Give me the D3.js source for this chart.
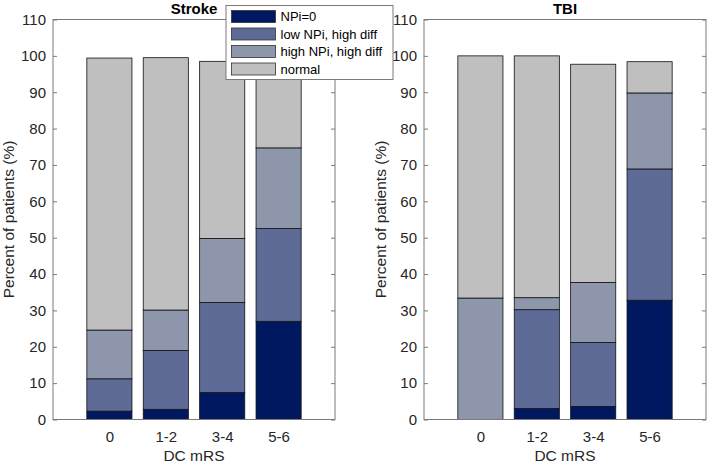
<!DOCTYPE html>
<html><head><meta charset="utf-8">
<script src="https://cdn.jsdelivr.net/npm/d3@7"></script>
<style>body{margin:0;background:#fff;} svg{display:block;font-family:"Liberation Sans",Arial,Helvetica,sans-serif;}</style>
</head><body>
<svg id="c" width="708" height="463"></svg>
<script>
const categories = ["0", "1-2", "3-4", "5-6"];
const seriesNames = ["NPi=0", "low NPi, high diff", "high NPi, high diff", "normal"];
const seriesColors = ["#00185f", "#5e6b96", "#8e96ab", "#bfbfbf"];
const strokeNPi0   = [2.3, 2.8, 7.4, 27.0];
const strokeLow    = [8.9, 16.2, 24.8, 25.5];
const strokeHigh   = [13.4, 11.1, 17.6, 22.2];
const strokeNormal = [74.8, 69.4, 48.7, 25.0];
const tbiNPi0   = [0, 3.0, 3.6, 32.8];
const tbiLow    = [0, 27.2, 17.6, 36.1];
const tbiHigh   = [33.4, 3.3, 16.5, 20.9];
const tbiNormal = [66.6, 66.5, 60.0, 8.6];
const yTicks = [0,10,20,30,40,50,60,70,80,90,100,110];

const svg = d3.select("#c");
const textColor = "#262626";
const axisColor = "#7a7a7a";

function panel(opts) {
  const {x0, x1, y0, y1, title, data} = opts;
  const g = svg.append("g");
  const x = d3.scaleLinear().domain([0, 5]).range([x0, x1]);
  const y = d3.scaleLinear().domain([0, 110]).range([y1, y0]);
  const rows = categories.map((c, i) => {
    const r = {cat: c, pos: i + 1};
    seriesNames.forEach((s, k) => r[s] = data[k][i]);
    return r;
  });
  const stacked = d3.stack().keys(seriesNames)(rows);
  const bw = (x(1) - x(0)) * 0.8;
  stacked.forEach((layer, k) => {
    g.selectAll(null).data(layer).enter().append("rect")
      .attr("x", d => x(d.data.pos) - bw / 2)
      .attr("width", bw)
      .attr("y", d => y(d[1]))
      .attr("height", d => Math.max(0, y(d[0]) - y(d[1])))
      .attr("fill", seriesColors[k])
      .attr("stroke", d => (d[1] - d[0]) > 0 ? "#111" : "none")
      .attr("stroke-width", 0.8);
  });
  g.append("rect").attr("x", x0).attr("y", y0).attr("width", x1 - x0).attr("height", y1 - y0)
    .attr("fill", "none").attr("stroke", axisColor).attr("stroke-width", 1);
  const yAxis = d3.axisLeft(y).tickValues(yTicks).tickSizeInner(-4).tickSizeOuter(0).tickPadding(7);
  const ya = g.append("g").attr("transform", `translate(${x0},0)`).call(yAxis);
  ya.select(".domain").remove();
  ya.selectAll("line").attr("stroke", axisColor);
  ya.selectAll("text").attr("fill", textColor).style("font-size", "15px");
  const yr = g.append("g").attr("transform", `translate(${x1},0)`)
    .call(d3.axisRight(y).tickValues(yTicks).tickSizeInner(-4).tickSizeOuter(0).tickFormat(""));
  yr.select(".domain").remove();
  yr.selectAll("line").attr("stroke", axisColor);
  const xa = g.append("g").attr("transform", `translate(0,${y1})`)
    .call(d3.axisBottom(x).tickValues([1,2,3,4]).tickFormat((d) => categories[d - 1]).tickSize(0).tickPadding(12));
  xa.select(".domain").remove();
  xa.selectAll("text").attr("fill", textColor).style("font-size", "15px");
  g.append("text").attr("x", (x0 + x1) / 2).attr("y", 461).attr("text-anchor", "middle")
    .attr("fill", textColor).style("font-size", "15.5px").text("DC mRS");
  g.append("text").attr("transform", `translate(${opts.ylabX},${(y0 + y1) / 2}) rotate(-90)`)
    .attr("text-anchor", "middle").attr("fill", textColor).style("font-size", "15.5px")
    .text("Percent of patients (%)");
  g.append("text").attr("x", (x0 + x1) / 2).attr("y", 13.5).attr("text-anchor", "middle")
    .attr("fill", "#000").style("font-size", "15px").style("font-weight", "bold").text(title);
}

panel({x0: 53, x1: 335, y0: 19.5, y1: 419.5, title: "Stroke",
  data: [strokeNPi0, strokeLow, strokeHigh, strokeNormal], ylabX: 14});
panel({x0: 424, x1: 706, y0: 19.5, y1: 419.5, title: "TBI",
  data: [tbiNPi0, tbiLow, tbiHigh, tbiNormal], ylabX: 386});

const lg = svg.append("g");
lg.append("rect").attr("x", 226).attr("y", 5.5).attr("width", 167).attr("height", 74)
  .attr("fill", "#fff").attr("stroke", axisColor).attr("stroke-width", 1);
seriesNames.forEach((s, k) => {
  const cy = 16.5 + k * 17.5;
  lg.append("rect").attr("x", 231.5).attr("y", cy - 6).attr("width", 44).attr("height", 12)
    .attr("fill", seriesColors[k]).attr("stroke", "#333").attr("stroke-width", 0.8);
  lg.append("text").attr("x", 280.5).attr("y", cy + 4.5).attr("fill", "#000")
    .style("font-size", "13px").text(s);
});
</script>
</body></html>
